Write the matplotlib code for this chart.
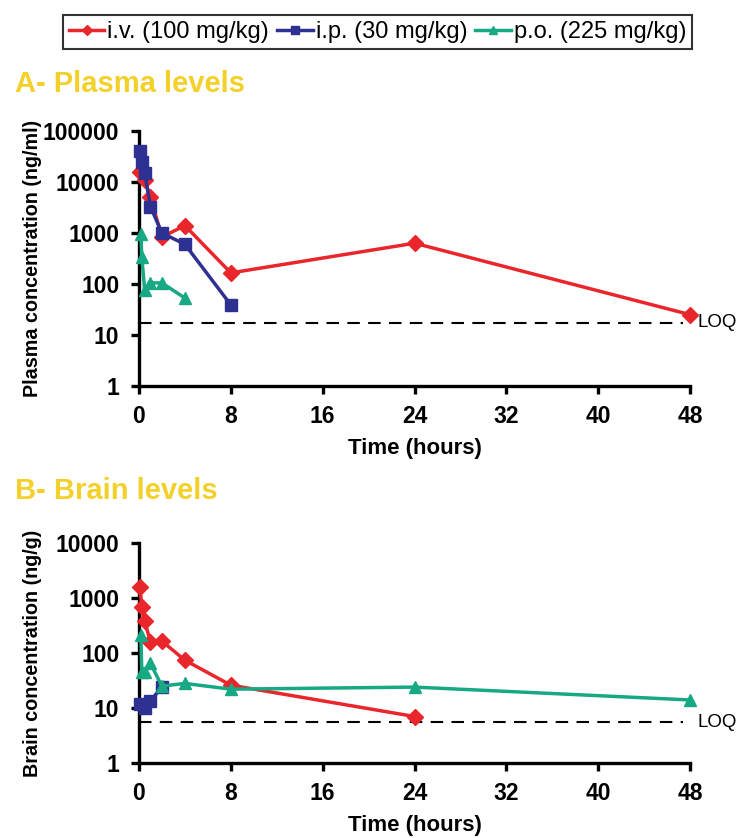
import matplotlib
matplotlib.use("Agg")
import matplotlib.pyplot as plt
from matplotlib.ticker import FixedLocator, FixedFormatter, NullLocator

# --- data (time in hours) ---
plasma_iv_t = [0.083, 0.5, 1, 2, 4, 8, 24, 48]
plasma_iv_c = [16000, 11000, 5100, 830, 1400, 165, 630, 25]
plasma_ip_t = [0.083, 0.25, 0.5, 1, 2, 4, 8]
plasma_ip_c = [41000, 25000, 15000, 3300, 1000, 600, 39]
plasma_po_t = [0.17, 0.25, 0.5, 1, 2, 4]
plasma_po_c = [950, 340, 75, 105, 105, 53]
plasma_loq = 17.5

brain_iv_t = [0.083, 0.25, 0.5, 1, 2, 4, 8, 24]
brain_iv_c = [1600, 700, 380, 160, 165, 74, 26, 7]
brain_ip_t = [0.083, 0.5, 1, 2]
brain_ip_c = [12, 10, 13.5, 24]
brain_po_t = [0.17, 0.25, 0.5, 1, 2, 4, 8, 24, 48]
brain_po_c = [210, 45, 45, 65, 25, 28, 22, 24, 14]
brain_loq = 5.5

x_ticks = [0, 8, 16, 24, 32, 40, 48]
legend_labels = ["i.v. (100 mg/kg)", "i.p. (30 mg/kg)", "p.o. (225 mg/kg)"]

RED = "#E8262B"
BLUE = "#2E3192"
GREEN = "#17A884"
GOLD = "#F4D02A"

plt.rcParams["font.family"] = ["Liberation Sans", "DejaVu Sans"]

fig = plt.figure(figsize=(7.39, 8.38), dpi=100)
axA = fig.add_axes([0.188, 0.5394, 0.746, 0.3043])
axB = fig.add_axes([0.188, 0.0895, 0.746, 0.2625])


def style(ax, ymax, ylabel):
    ax.set_yscale("log")
    ax.set_xlim(0, 48)
    ax.set_ylim(1, ymax)
    yt = [10 ** i for i in range(len(str(ymax)))]
    ax.yaxis.set_major_locator(FixedLocator(yt))
    ax.yaxis.set_major_formatter(FixedFormatter([str(v) for v in yt]))
    ax.yaxis.set_minor_locator(NullLocator())
    ax.set_xticks(x_ticks)
    ax.set_xticklabels([str(v) for v in x_ticks])
    for s in ("top", "right"):
        ax.spines[s].set_visible(False)
    for s in ("left", "bottom"):
        ax.spines[s].set_linewidth(2.4)
    ax.tick_params(width=2.4, length=6, labelsize=16.5, pad=8)
    for lab in ax.get_xticklabels() + ax.get_yticklabels():
        lab.set_fontweight("bold")
    ax.set_xlabel("Time (hours)", fontsize=16, fontweight="bold", labelpad=7)
    ax.set_ylabel(ylabel, fontsize=14.2, fontweight="bold")
    ax.yaxis.set_label_coords(-0.175, 0.5)


def series(ax, t, c, color, marker, ms):
    return ax.plot(t, c, color=color, marker=marker, ms=ms, lw=2.5,
                   clip_on=False, zorder=3)[0]


def loq(ax, level):
    ax.plot([0, 47.4], [level, level], color="black", lw=1.5,
            dashes=(6, 4), zorder=2)
    ax.text(48.6, level, "LOQ", fontsize=13.5, va="center", ha="left")


series(axA, plasma_iv_t, plasma_iv_c, RED, "D", 8)
series(axA, plasma_ip_t, plasma_ip_c, BLUE, "s", 8)
series(axA, plasma_po_t, plasma_po_c, GREEN, "^", 8)
loq(axA, plasma_loq)
style(axA, 100000, "Plasma concentration (ng/ml)")

h1 = series(axB, brain_iv_t, brain_iv_c, RED, "D", 8)
h2 = series(axB, brain_ip_t, brain_ip_c, BLUE, "s", 8)
h3 = series(axB, brain_po_t, brain_po_c, GREEN, "^", 8)
loq(axB, brain_loq)
style(axB, 10000, "Brain concentration (ng/g)")

leg = fig.legend([h1, h2, h3], legend_labels, loc="center",
                 bbox_to_anchor=(0.511, 0.962), ncol=3,
                 prop={"size": 17},
                 frameon=True, fancybox=False, handlelength=1.5,
                 handletextpad=0.12, columnspacing=0.35, markerscale=0.7,
                 borderpad=0.25, borderaxespad=0)
leg.get_frame().set_edgecolor("black")
leg.get_frame().set_linewidth(1.5)

fig.text(0.02, 0.9, "A- Plasma levels", fontsize=21, fontweight="bold",
         color=GOLD, va="center")
fig.text(0.02, 0.4145, "B- Brain levels", fontsize=21, fontweight="bold",
         color=GOLD, va="center")

fig.savefig("out.png", dpi=100)
